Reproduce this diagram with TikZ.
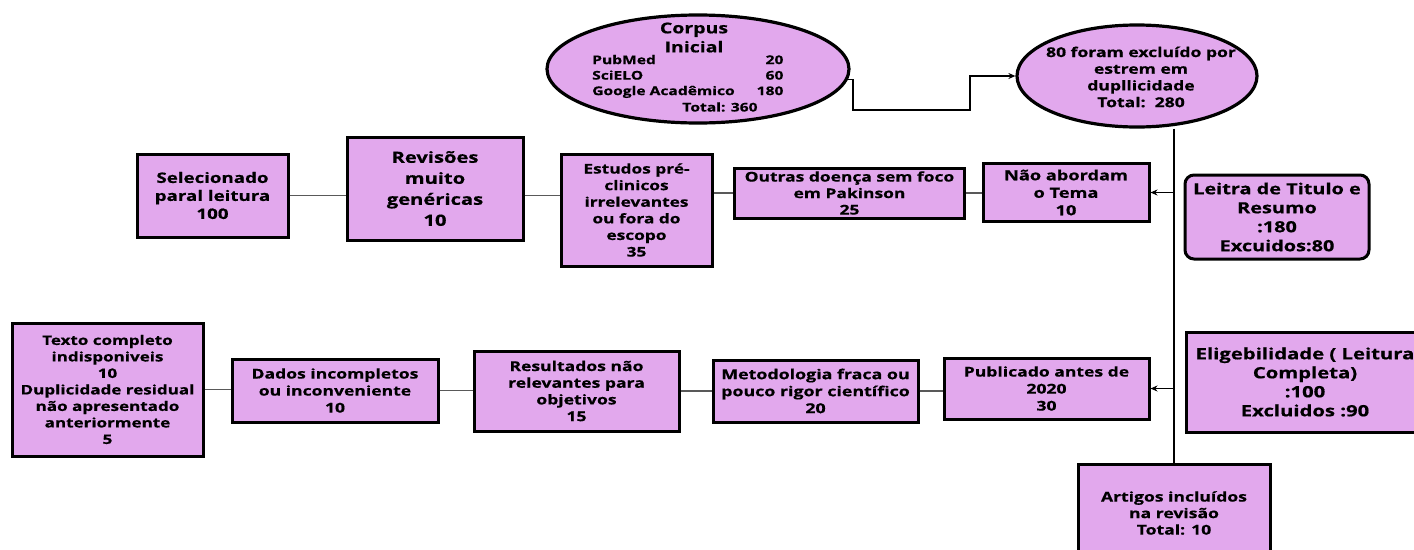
\documentclass[tikz,border=0pt]{standalone}
\usepackage{fontspec}
\setmainfont{Open Sans}[FakeStretch=1.3, BoldFeatures={FakeBold=0.6}]
\usetikzlibrary{arrows.meta,shapes.geometric}
\definecolor{purp}{RGB}{226,168,237}
\newcommand\myfs[2]{\fontsize{#1}{#2}\selectfont\bfseries}
\tikzset{
  box/.style={draw=black, line width=3pt, fill=purp, align=center, inner sep=0pt},
  ell/.style={ellipse, draw=black, line width=3.2pt, fill=purp, inner sep=0pt},
  txt/.style={align=center, inner sep=0pt},
  conn/.style={draw=black!65, line width=1.8pt},
  vline/.style={draw=black, line width=2.2pt},
  arr/.style={draw=black, line width=1.8pt, -{Stealth[length=7pt,width=6pt]}},
}
\begin{document}
\begin{tikzpicture}[x=1pt,y=-1pt]
\useasboundingbox (0,0) rectangle (1414,549);

% top ellipses
\node[ell, minimum width=302, minimum height=108] (corpus) at (698,69) {};
\node[txt, font=\myfs{15}{19}] (corpusT) at (694,37.5) {Corpus\\Inicial};
\node[txt, anchor=west, font=\myfs{12}{15.5}] (corpusL) at (592,76.5)
  {\begin{tabular}{@{}l@{\hspace{22pt}}r@{}}PubMed&20\\SciELO&60\\Google Acadêmico&180\end{tabular}};
\node[txt, font=\myfs{12}{15.5}] (corpusTot) at (720,107) {Total: 360};

\node[ell, minimum width=240, minimum height=102] (dup) at (1137,76) {};
\node[txt, font=\myfs{13.5}{16.7}] (dupT) at (1141,77) {80 foram excluído por\\estrem em\\dupllicidade\\Total:\ \ 280};

% upper row
\node[box, minimum width=151, minimum height=83, font=\myfs{14.4}{18}] (sel) at (212.5,195.5) {Selecionado\\paral leitura\\100};
\node[box, minimum width=176, minimum height=103, font=\myfs{15.5}{21}] (rev) at (435,188.5) {Revisões\\muito\\genéricas\\10};
\node[box, minimum width=151, minimum height=112, font=\myfs{13.3}{16.6}] (est) at (636.5,210) {Estudos pré-\\clinicos\\irrelevantes\\ou fora do\\escopo\\35};
\node[box, minimum width=230, minimum height=50, font=\myfs{13.4}{16.5}] (out) at (849.5,193) {Outras doença sem foco\\em Pakinson\\25};
\node[box, minimum width=166, minimum height=58, font=\myfs{14}{17.5}] (nao) at (1066,192.5) {Não abordam\\o Tema\\10};
\node[box, rounded corners=9pt, minimum width=184, minimum height=84, font=\myfs{15.3}{19}] (lei) at (1277,217) {Leitra de Titulo e\\Resumo\\:180\\Excuidos:80};

% lower row
\node[box, minimum width=191, minimum height=133, font=\myfs{13.1}{16.5}] (tex) at (107.5,389.5) {Texto completo\\indisponiveis\\10\\Duplicidade residual\\não apresentado\\anteriormente\\5};
\node[box, minimum width=206, minimum height=63, font=\myfs{13.5}{17}] (dad) at (335,390.5) {Dados incompletos\\ou inconveniente\\10};
\node[box, minimum width=205, minimum height=80, font=\myfs{13.5}{16.7}] (res) at (576.5,391) {Resultados não\\relevantes para\\objetivos\\15};
\node[box, minimum width=205, minimum height=62, font=\myfs{13.7}{17}] (met) at (815.5,391) {Metodologia fraca ou\\pouco rigor científico\\20};
\node[box, minimum width=205, minimum height=61, font=\myfs{13.5}{17}] (pub) at (1046.5,388.5) {Publicado antes de\\2020\\30};
\node[box, minimum width=238, minimum height=100, font=\myfs{15.6}{19}] (eli) at (1305,382) {Eligebilidade ( Leitura\\Completa)\\:100\\Excluidos :90};
\node[box, minimum width=192, minimum height=98, font=\myfs{13.5}{16.5}] (art) at (1174,513) {Artigos incluídos\\na revisão\\Total: 10};

% connectors
\draw[arr, line width=1.6pt] (corpus.-4) -- ++(5,0) |- (970,110) |- (dup.west);
\draw[vline] (art.north |- dup.south) -- (art.north);
\draw[arr] (art.north |- nao.east) -- (nao.east);
\draw[arr] (art.north |- pub.east) -- (pub.east);

\draw[conn] (sel.east) -- (sel.east -| rev.west);
\draw[conn] (rev.east |- sel.east) -- (sel.east -| est.west);
\draw[conn] (out.west -| est.east) -- (out.west);
\draw[conn] (out.east) -- (out.east -| nao.west);

\draw[conn] (tex.east) -- (tex.east -| dad.west);
\draw[conn] (dad.east) -- (dad.east -| res.west);
\draw[conn] (met.west -| res.east) -- (met.west);
\draw[conn] (met.east) -- (met.east -| pub.west);
\end{tikzpicture}
\end{document}
